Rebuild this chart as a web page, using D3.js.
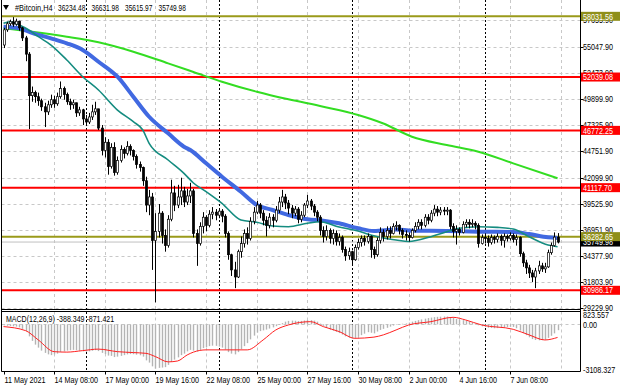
<!DOCTYPE html>
<html><head><meta charset="utf-8">
<script src="https://cdn.jsdelivr.net/npm/d3@7"></script>
<style>
body{margin:0;background:#fff}
svg{display:block}
text{font-family:"Liberation Sans",Arial,sans-serif}
</style>
</head><body>
<svg id="c" width="620" height="388"></svg>
<script>
// ---------------- DATA ----------------
const firstOpen = 55200;
const closeP = [56700,57300,57500,57250,57550,56900,55900,54300,50200,50500,
50100,49700,49100,48600,49300,49800,49400,50100,50900,50300,
49600,49300,49500,48500,48800,47900,47600,48100,48600,48900,
47000,44800,45600,43200,45100,42600,43800,44900,44500,45200,
44800,44200,43400,43100,41800,39400,40200,35900,36800,38600,
36400,35400,38000,40600,39400,40200,40800,39700,40300,40800,
36600,35600,37300,38200,37400,38500,38700,38400,38800,38300,
36600,34500,33000,32300,34800,35600,36600,36100,37800,38700,
39400,38600,37900,37400,38200,37900,38900,39700,40200,39600,
39100,38600,39000,38000,38400,39400,39800,39300,38700,38200,
36900,36300,36900,36100,36600,35800,36200,35000,34400,34800,
34000,35200,35700,36100,35800,36300,35000,34500,35900,36700,
36300,36900,36600,37300,37400,36900,36500,36400,36200,36900,
37300,37700,37400,38200,37900,38600,39000,38700,38900,38800,
38900,37300,36800,37000,36700,37500,37700,37500,37600,37400,
35600,36200,36100,35700,36200,36000,36300,35900,36300,36100,
36400,36000,36200,34600,33700,33200,32700,32300,32900,33400,
33100,33300,34700,35400,36234.48,35749.98];
const highP = [56900,57500,57700,57950,57800,57600,57000,56100,54500,51100,
50700,50500,49900,49500,49700,50300,50200,50500,51600,51100,
50500,49900,49800,49500,49100,48900,48300,48500,49300,49600,
48900,47300,46100,45900,45500,45600,44200,45300,45100,45700,
45400,44900,44400,43700,43200,42200,40900,40600,38600,39500,
38800,37000,38400,41900,41300,41400,42100,41200,41000,41600,
41000,37000,37700,38700,38400,38900,39200,39000,39100,39000,
38500,36800,34600,33800,35000,36300,37000,37200,38200,39200,
39800,39600,38900,38300,38600,38500,39300,40200,40900,40500,
39900,39400,39300,39200,38800,39600,40400,40000,39500,38900,
38400,37300,37400,37100,37000,36900,36600,36400,35300,35200,
34900,35500,36100,36400,36400,36600,36400,35300,36200,37200,
37000,37300,37300,37600,37800,37500,37100,36900,36700,37100,
37700,38000,38000,38500,38500,38900,39400,39300,39200,39200,
39200,39000,37600,37400,37200,37800,38000,38000,38000,37800,
37600,36500,36600,36400,36500,36400,36600,36500,36600,36500,
36700,36600,36500,36300,34800,34000,33500,33000,33200,33900,
33700,33700,35000,35700,36700,36631.98];
const lowP = [54900,56500,57100,57000,57100,56600,55600,53600,46900,49600,
49500,49200,48700,47100,48300,49000,49000,49200,49900,49800,
49300,48800,48900,48100,48200,47300,47200,47400,47800,48300,
46800,44300,44100,42400,43000,42300,42400,43600,44000,44300,
44300,43800,43000,42700,41300,38700,38400,33000,29800,36200,
35600,34800,35200,37800,38800,39100,39400,39200,39400,39600,
36200,33400,35400,36600,36800,37200,38000,37900,38100,37700,
36200,34000,32400,31200,32200,34200,35200,35500,35900,37500,
38500,38100,37400,36300,37100,37200,37700,38600,39200,39000,
38500,38100,38300,37600,37700,38200,39100,38900,38300,37800,
36400,35700,35900,35600,35500,35400,35400,34700,33900,34000,
33500,33900,35000,35300,35400,35600,34200,34100,34300,35600,
35800,36000,36100,36500,36900,36500,36100,35900,35800,36100,
36700,37000,37000,37200,37500,37700,38300,38300,38400,38400,
38400,37000,36200,35500,36400,36600,37200,37100,37200,37000,
35200,35500,35600,35300,35500,35600,35700,35400,35200,35800,
35900,35700,35400,34300,33300,32600,32200,31800,31200,32600,
32800,32700,33200,34500,35300,35615.97];

// moving averages (value read at given bars)
const greenBars = [0,9,20,30,41,52,60,69,80,90,101,112,120,129,140,150,161,175];
const greenVals = [56850,56510,56020,55470,54540,53390,52540,51580,50590,49840,49110,48290,47450,46150,45330,44670,43520,42040];
const blueBars = [0,5,9,15,20,25,30,36,41,46,52,57,59,64,69,75,80,85,90,96,101,106,112,117,124,129,140,150,161,166,172,175];
const blueVals = [57010,56850,56390,55860,55370,54710,53550,52070,50100,48120,46480,45160,44830,43520,42200,40720,39410,38910,38420,37990,37860,37600,37110,36840,36990,36870,36840,36770,36740,36540,36220,36150];
const tealBars = [0,2,5,8,11,15,20,25,30,36,41,44,46,52,57,60,64,69,75,80,85,90,96,100,106,112,116,120,124,128,135,140,144,150,156,161,166,172,175];
const tealVals = [57340,57500,57170,56680,56020,55200,53720,52070,50760,48780,47630,46810,45500,43850,42530,41580,40720,39570,37930,37700,37330,37260,37600,37760,37230,36840,36440,36150,35950,35800,36280,36770,37110,37260,37200,37040,36280,35460,35290];

// MACD(12,26,9) histogram per bar and signal line
const macdVals = [-60,-90,-110,-130,-150,-200,-300,-450,-800,-1100,
-1350,-1550,-1750,-1900,-2000,-2050,-2000,-1950,-1850,-1800,
-1750,-1720,-1700,-1720,-1750,-1800,-1820,-1800,-1760,-1720,
-1780,-1900,-1980,-2080,-2100,-2180,-2150,-2100,-2050,-2000,
-1980,-1990,-2020,-2060,-2150,-2400,-2550,-2800,-2950,-2900,
-2880,-2850,-2700,-2500,-2350,-2200,-2050,-1950,-1800,-1700,
-1750,-1800,-1700,-1580,-1520,-1450,-1420,-1430,-1480,-1550,
-1680,-1850,-1950,-2000,-1850,-1650,-1450,-1250,-1000,-750,
-550,-450,-400,-350,-280,-200,-120,-30,80,180,
230,250,240,220,230,260,290,280,250,180,
50,-100,-230,-350,-420,-500,-580,-680,-800,-880,
-930,-900,-820,-720,-620,-520,-560,-600,-480,-370,
-300,-230,-150,-80,-30,20,40,60,120,180,
230,280,330,380,420,450,480,500,510,520,
520,480,420,360,320,280,240,180,120,50,
-60,-130,-180,-220,-240,-260,-250,-230,-200,-180,
-160,-170,-260,-420,-580,-720,-860,-980,-1040,-1060,
-1050,-1020,-900,-760,-600,-388.349];
const sigBars = [0,7,11,16,20,25,30,36,41,45,48,52,55,58,60,64,69,77,82,86,90,97,101,106,111,117,120,124,128,135,142,146,151,161,166,171,175];
const sigVals = [-150,-420,-1040,-1820,-1850,-1750,-1650,-1820,-1880,-1930,-2150,-2500,-2440,-2040,-1850,-1700,-1700,-1700,-1040,-373,-40,180,-150,-480,-930,-850,-700,-373,-40,180,470,290,-40,-330,-700,-1040,-871.421];

const priceTicks = [57655.90,55047.90,52473.90,49899.90,47325.90,44751.90,42099.90,39525.90,36951.90,34377.90,31803.90,29229.90];
const timeLabels = ["11 May 2021","14 May 08:00","17 May 00:00","19 May 16:00","22 May 08:00","25 May 00:00","27 May 16:00","30 May 08:00","2 Jun 00:00","4 Jun 16:00","7 Jun 08:00"];
const timeLabelBars = [0,16,32,48,64,80,96,112,128,144,160];
const gridBars = [16,32,48,64,80,96,112,128,144,160,176];
const separatorBars = [26,68,110,152];
const redLevels = [52039.08,46772.25,41117.70,30986.17];
const oliveLevels = [58031.56,36282.65];
const lastPrice = 35749.98;
const title = "#Bitcoin,H4";
const ohlcText = ["36234.48","36631.98","35615.97","35749.98"];
const macdTitle = "MACD(12,26,9) -388.349 -871.421";
const macdTicks = [{v:823.557,t:"823.557"},{v:0,t:"0.00"},{v:-3108.327,t:"-3108.327"}];

// ---------------- LAYOUT ----------------
const svg = d3.select("#c");
const L = 1.5, R = 580.5;
const mainTop = 0, mainBot = 309.5, mTop = 311.5, mBot = 371.5;
const n = closeP.length;
const x = d3.scaleLinear().domain([0, 175]).range([3.5, 3.5 + 3.166*175]);
const y = d3.scaleLinear().domain([29140, 59643]).range([309, 0]);
const ym = d3.scaleLinear().domain([-3108.327, 823.557]).range([371, 312]);
const openP = closeP.map((c,i)=> i ? closeP[i-1] : firstOpen);

function txt(parent, px, py, s, o={}) {
  return parent.append("text")
    .attr("transform", `translate(${px},${py}) scale(${o.sx||0.8},1)`)
    .attr("font-size", o.size||9).attr("fill", o.fill||"#000")
    .attr("text-anchor", o.anchor||"start").text(s);
}

const gridC = "#c8c8c8";
// horizontal grid
svg.append("g").selectAll("line").data(priceTicks).join("line")
  .attr("x1", L).attr("x2", R).attr("y1", d=>Math.round(y(d))+0.5).attr("y2", d=>Math.round(y(d))+0.5)
  .attr("stroke", gridC).attr("stroke-dasharray","3,3");
// vertical grid
const vg = svg.append("g");
gridBars.forEach(b=>{
  const xx = Math.round(x(b))+0.5;
  vg.append("line").attr("x1",xx).attr("x2",xx).attr("y1",mainTop).attr("y2",mainBot).attr("stroke",gridC).attr("stroke-dasharray","3,3");
  vg.append("line").attr("x1",xx).attr("x2",xx).attr("y1",mTop).attr("y2",mBot).attr("stroke",gridC).attr("stroke-dasharray","3,3");
});
// macd zero grid
svg.append("line").attr("x1",L).attr("x2",R).attr("y1",Math.round(ym(0))+0.5).attr("y2",Math.round(ym(0))+0.5)
  .attr("stroke",gridC).attr("stroke-dasharray","3,3");
// separators
svg.append("g").selectAll("line").data(separatorBars).join("line")
  .attr("x1", d=>Math.round(x(d))+0.5).attr("x2", d=>Math.round(x(d))+0.5)
  .attr("y1", mainTop).attr("y2", mBot).attr("stroke","#000").attr("stroke-dasharray","2,2");

// level lines
svg.append("line").attr("x1",L).attr("x2",R).attr("y1",y(lastPrice)).attr("y2",y(lastPrice)).attr("stroke","#c0c0c0").attr("stroke-width",1);
svg.append("g").selectAll("line").data(redLevels).join("line")
  .attr("x1",L).attr("x2",R).attr("y1",d=>y(d)).attr("y2",d=>y(d)).attr("stroke","#ff0000").attr("stroke-width",2);
svg.append("g").selectAll("line").data(oliveLevels).join("line")
  .attr("x1",L).attr("x2",R).attr("y1",d=>y(d)).attr("y2",d=>y(d)).attr("stroke","#9a9a1a").attr("stroke-width",2);

// moving averages
svg.append("clipPath").attr("id","mc").append("rect").attr("x",L).attr("y",mainTop).attr("width",R-L).attr("height",mainBot-mainTop);
const line = d3.line().x(d=>x(d[0])).y(d=>y(d[1])).curve(d3.curveMonotoneX);
const mag = svg.append("g").attr("clip-path","url(#mc)");
mag.append("path").attr("d", line(greenBars.map((b,i)=>[b,greenVals[i]]))).attr("fill","none").attr("stroke","#33dd22").attr("stroke-width",2);
mag.append("path").attr("d", line(blueBars.map((b,i)=>[b,blueVals[i]]))).attr("fill","none").attr("stroke","#4169e1").attr("stroke-width",4);
mag.append("path").attr("d", line(tealBars.map((b,i)=>[b,tealVals[i]]))).attr("fill","none").attr("stroke","#158c80").attr("stroke-width",1.6);

// candles
const cg = svg.append("g");
d3.range(n).forEach(i=>{
  const cx = Math.round(x(i)) + 0.5;
  cg.append("line").attr("x1",cx).attr("x2",cx).attr("y1",y(highP[i])).attr("y2",y(lowP[i])).attr("stroke","#000").attr("stroke-width",1);
  const o = openP[i], c = closeP[i];
  const top = y(Math.max(o,c)), bot = y(Math.min(o,c));
  const bull = c >= o;
  cg.append("rect").attr("x",cx-1.1).attr("y",top).attr("width",2.2).attr("height",Math.max(bot-top,0.8))
    .attr("fill", bull ? "#fff" : "#000").attr("stroke","#000").attr("stroke-width",0.7);
});

// MACD histogram
svg.append("g").selectAll("rect").data(macdVals).join("rect")
  .attr("x",(d,i)=>Math.round(x(i))-0.2).attr("width",1.4)
  .attr("y",d=>Math.min(ym(d),ym(0))).attr("height",d=>Math.abs(ym(d)-ym(0)))
  .attr("fill","#b4b4b4");
const sline = d3.line().x(d=>x(d[0])).y(d=>ym(d[1])).curve(d3.curveMonotoneX);
svg.append("path").attr("d", sline(sigBars.map((b,i)=>[b,sigVals[i]]))).attr("fill","none").attr("stroke","#ff2020").attr("stroke-width",1);

// frames
svg.append("line").attr("x1",L).attr("x2",L).attr("y1",mainTop).attr("y2",mBot).attr("stroke","#000");
svg.append("line").attr("x1",R).attr("x2",R).attr("y1",0).attr("y2",mBot).attr("stroke","#000");
[mainBot, mTop, mBot].forEach(yy=>svg.append("line").attr("x1",L).attr("x2",R).attr("y1",yy).attr("y2",yy).attr("stroke","#000"));

// price axis labels
priceTicks.forEach(v=>{
  const yy = y(v);
  svg.append("line").attr("x1",R).attr("x2",R+3).attr("y1",Math.round(yy)+0.5).attr("y2",Math.round(yy)+0.5).attr("stroke","#000");
  txt(svg, 583, yy+3.2, v.toFixed(2));
});
macdTicks.forEach(d=>{
  txt(svg, 583, ym(d.v)+3.2 + (d.v>800?3:0) - (d.v<-3000?1:0), d.t);
});

// level boxes
function box(v, bg) {
  const yy = y(v);
  svg.append("rect").attr("x",581).attr("y",yy-4.5).attr("width",39).attr("height",9).attr("fill",bg);
  txt(svg, 583, yy+3.2, v.toFixed(2), {fill:"#fff"});
}
box(lastPrice, "#000");
redLevels.forEach(v=>box(v,"#ff0000"));
oliveLevels.forEach(v=>box(v,"#8f8f1a"));

// time axis
timeLabelBars.forEach((b,i)=>{
  const xx = Math.round(x(b))+0.5;
  svg.append("line").attr("x1",xx).attr("x2",xx).attr("y1",mBot).attr("y2",mBot+3).attr("stroke","#000");
  txt(svg, xx, 383, timeLabels[i]);
});

// titles
svg.append("path").attr("d","M3,5 L9,5 L6,10 Z").attr("fill","#000");
txt(svg, 15, 11, title, {size:9.2});
const ohlcX = [58, 91.5, 125, 158.5];
ohlcText.forEach((t,i)=> txt(svg, ohlcX[i], 11, t, {size:8.2}));
txt(svg, 6, 322, macdTitle, {size:8.8});
</script>
</body></html>
